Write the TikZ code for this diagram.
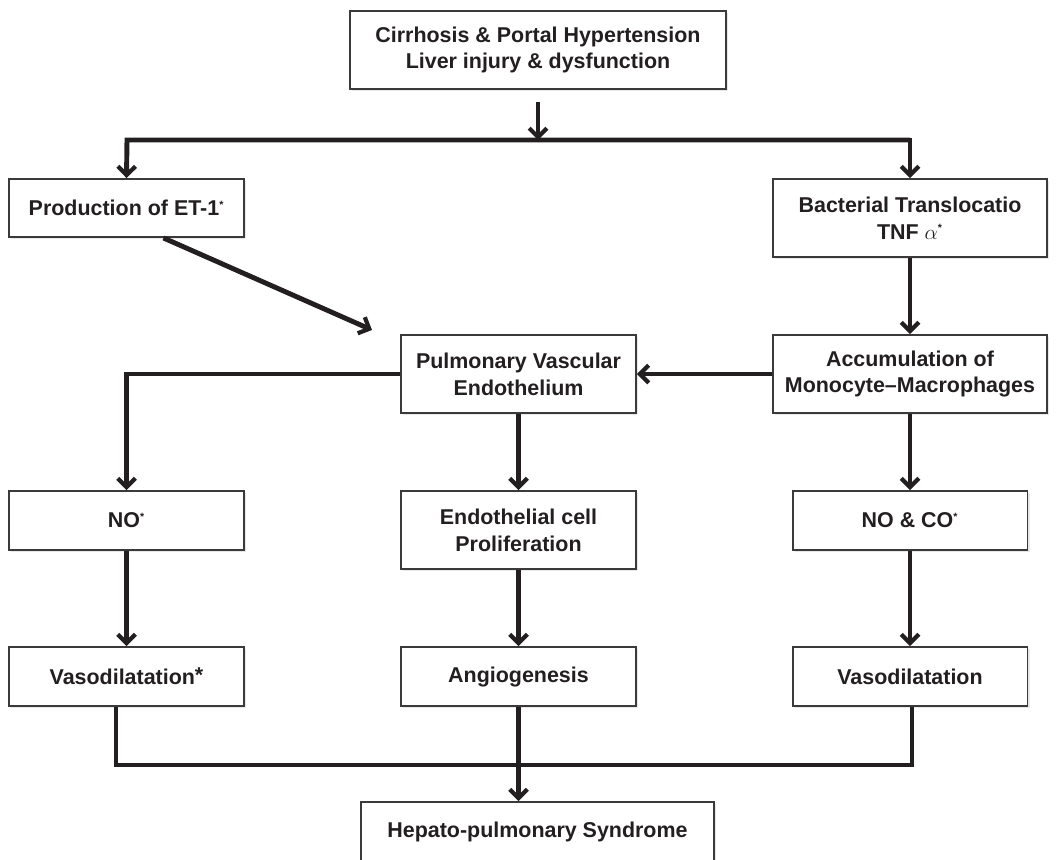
\documentclass[tikz,border=0pt]{standalone}
\usepackage{fontspec}
\setmainfont{Liberation Sans}
\usetikzlibrary{positioning,arrows.meta,calc,shadows}
\definecolor{inkgray}{HTML}{231F20}
\definecolor{framegray}{HTML}{3A3A3A}
\newcommand{\tinystar}{\textsuperscript{\fontsize{6}{6}\selectfont *}}

\begin{document}
\begin{tikzpicture}[x=0.02cm,y=-0.02cm,
 box/.style={draw=framegray,line width=1.1pt,fill=white,inner sep=0pt,align=center,
   font=\fontsize{12.2}{15.3}\selectfont\bfseries,text=inkgray,
   drop shadow={shadow xshift=1.2pt,shadow yshift=-1.2pt,opacity=.18}},
 narrowbox/.style={box,minimum width=4.7cm},
 widebox/.style={box,minimum width=5.48cm},
 flow/.style={-{Straight Barb[length=5pt,width=10pt,line width=2.4pt]},line width=2.8pt,inkgray},
 bar/.style={line width=2.8pt,inkgray}]
\clip (0,0) rectangle (1064,859);
% Boxes, row by row.
\node[box,minimum width=7.52cm,minimum height=1.56cm] (cirr) at (538,50)
  {Cirrhosis \& Portal Hypertension\\Liver injury \& dysfunction};
\node[narrowbox,minimum height=1.16cm] (et) at (126.5,208) {Production of ET-1\tinystar};
\node[widebox,minimum height=1.56cm] (bact) at (910,218)
  {Bacterial Translocatio\\TNF $\alpha$\tinystar};
\node[narrowbox,minimum height=1.56cm] (pulm) at (518.5,374) {Pulmonary Vascular\\Endothelium};
\node[widebox,minimum height=1.56cm] (accum) at (910,374) {Accumulation of\\Monocyte--Macrophages};
\node[narrowbox,minimum height=1.18cm] (no) at (126.5,520.5) {NO\tinystar};
\node[narrowbox,minimum height=1.56cm] (endo) at (518.5,530) {Endothelial cell\\Proliferation};
\node[narrowbox,minimum height=1.18cm] (noco) at (910,520.5) {NO \& CO\tinystar};
\node[narrowbox,minimum height=1.18cm] (vasoL) at (126.5,676.5) {Vasodilatation\raisebox{1pt}{*}};
\node[narrowbox,minimum height=1.18cm] (angio) at (518.5,676.5) {Angiogenesis};
\node[narrowbox,minimum height=1.18cm] (vasoR) at (910,676.5) {Vasodilatation};
\node[box,minimum width=7.06cm,minimum height=1.2cm] (hps) at (537.5,832) {Hepato-pulmonary Syndrome};
% Split below the top box.
\coordinate (splitL) at (127,140);
\coordinate (splitR) at (910,140);
\draw[flow,shorten <=0.24cm] (cirr.south) -- (cirr.south |- splitL);
\draw[flow] (splitR) -- (splitL) -- (et.north);
\draw[flow] (splitL) -- (splitR) -- (bact.north);
% ET-1 towards the endothelium.
\coordinate (etin) at (372,330);
\draw[flow] (et.-39) -- (etin);
% Right column and cross link.
\draw[flow] (bact) -- (accum);
\draw[flow] (accum.west) -- (pulm.east);
\draw[flow] (pulm.west) -| (no.north);
\draw[flow] (pulm) -- (endo);
\draw[flow] (accum) -- (noco);
\draw[flow] (no) -- (vasoL);
\draw[flow] (endo) -- (angio);
\draw[flow] (noco) -- (vasoR);
% Joining bar above the syndrome.
\coordinate (joinL) at (116,765);
\coordinate (joinR) at (912,765);
\draw[bar] (vasoL.south -| joinL) -- (joinL) -- (joinR) -- (vasoR.south -| joinR);
\draw[flow] (angio.south) -- (angio.south |- hps.north);
\end{tikzpicture}
\end{document}
